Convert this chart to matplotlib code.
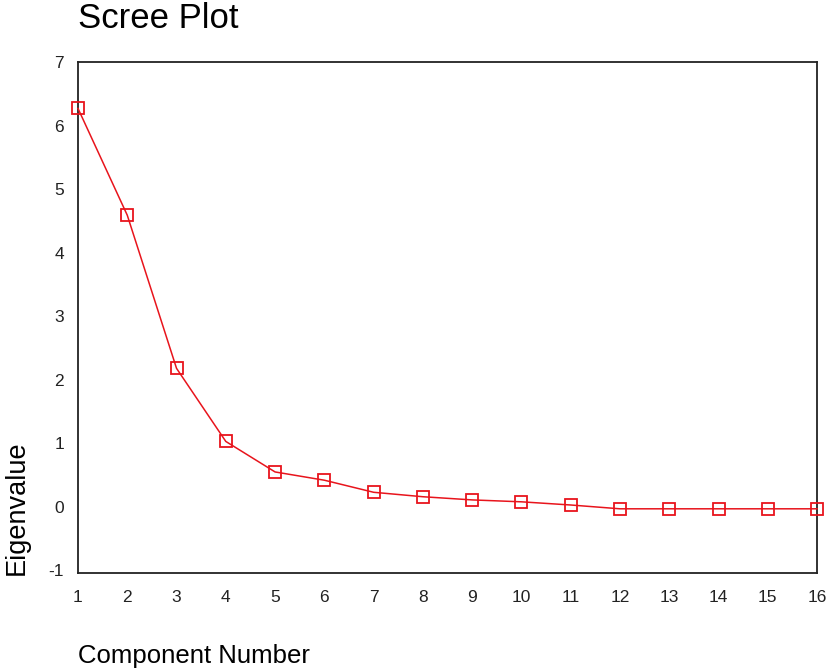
"""
Scree plot of component eigenvalues
"""

import matplotlib
matplotlib.use("Agg")
import matplotlib.pyplot as plt

components = list(range(1, 17))
eigenvalues = [6.27, 4.59, 2.18, 1.03, 0.55, 0.42, 0.23, 0.16,
               0.11, 0.08, 0.03, -0.03, -0.03, -0.03, -0.03, -0.03]
y_ticks = [-1, 0, 1, 2, 3, 4, 5, 6, 7]

plt.rcParams['font.family'] = ['Liberation Sans', 'DejaVu Sans']
plt.rcParams['axes.unicode_minus'] = False

fig = plt.figure(figsize=(8.27, 6.69), dpi=100, facecolor='white')
ax = fig.add_axes([0.0943, 0.1435, 0.8937, 0.7638])

ax.plot(components, eigenvalues, color='#e8141c', linewidth=1.1,
        marker='s', markersize=9, markerfacecolor='none',
        markeredgecolor='#e8141c', markeredgewidth=1.3, clip_on=False, zorder=3)

ax.set_xlim(1, 16)
ax.set_ylim(-1.04, 7)
ax.set_xticks(components)
ax.set_yticks(y_ticks)
ax.tick_params(length=0, labelsize=12.5, colors='#222222')
ax.tick_params(axis='x', pad=12)
ax.tick_params(axis='y', pad=10)
for side in ax.spines.values():
    side.set_color('#222222')
    side.set_linewidth(1.3)

fig.text(0.0943, 0.958, 'Scree Plot', fontsize=25, ha='left', va='baseline')
fig.text(0.0943, 0.002, 'Component Number', fontsize=18.5, ha='left', va='bottom')
fig.text(0.005, 0.141, 'Eigenvalue', fontsize=19.5, rotation=90,
         ha='left', va='bottom')

fig.savefig('out.png', dpi=100, facecolor='white')
